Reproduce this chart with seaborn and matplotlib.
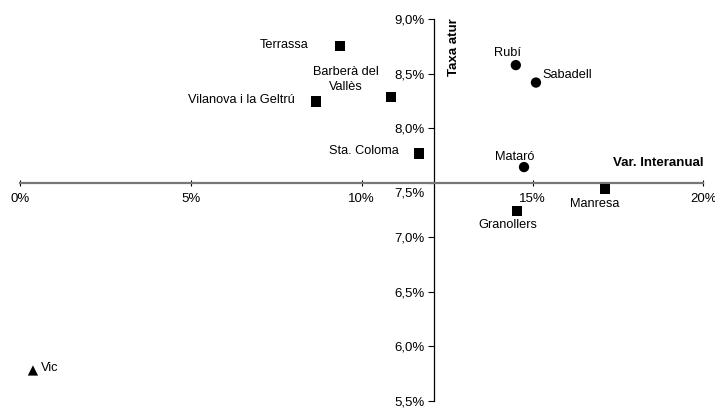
import matplotlib
matplotlib.use("Agg")
import matplotlib.pyplot as plt
import matplotlib.transforms as mtransforms
import pandas as pd
import seaborn as sns

# data
cities = ["Terrassa", "Barberà del\nVallès", "Vilanova i la Geltrú", "Sta. Coloma",
          "Rubí", "Sabadell", "Mataró", "Manresa", "Granollers", "Vic"]
var_interanual = [9.36, 10.85, 8.66, 11.67, 14.51, 15.10, 14.75, 17.12, 14.54, 0.37]
taxa_atur = [8.755, 8.29, 8.245, 7.77, 8.58, 8.42, 7.645, 7.445, 7.24, 5.78]
group = ["sq", "sq", "sq", "sq", "ci", "ci", "ci", "sq", "sq", "tr"]

x_ticks = [0, 5, 10, 15, 20]
x_labels = ["0%", "5%", "10%", "15%", "20%"]
y_ticks = [5.5, 6.0, 6.5, 7.0, 7.5, 8.0, 8.5, 9.0]
y_labels = ["5,5%", "6,0%", "6,5%", "7,0%", "7,5%", "8,0%", "8,5%", "9,0%"]

# label offsets in pixels (dx, dy) and alignment
label_pos = {
    "Terrassa": (-31, 1, "right"),
    "Barberà del\nVallès": (-45, 17, "center"),
    "Vilanova i la Geltrú": (-21, 2, "right"),
    "Sta. Coloma": (-20, 2, "right"),
    "Rubí": (-8, 12, "center"),
    "Sabadell": (6, 8, "left"),
    "Mataró": (-9, 10, "center"),
    "Manresa": (-10, -15, "center"),
    "Granollers": (-9, -14, "center"),
    "Vic": (8, 2, "left"),
}

df = pd.DataFrame({"city": cities, "x": var_interanual, "y": taxa_atur, "g": group})

plt.rcParams["font.family"] = ["Liberation Sans", "DejaVu Sans"]
plt.rcParams["font.size"] = 9

fig = plt.figure(figsize=(7.15, 4.08), dpi=100)
ax = fig.add_axes([20.3 / 715, 7 / 408, 683 / 715, 381.7 / 408])

sns.scatterplot(data=df, x="x", y="y", style="g",
                markers={"sq": "s", "ci": "o", "tr": "^"},
                color="black", s=55, edgecolor="none", legend=False,
                ax=ax, clip_on=False, zorder=3)

for c, xv, yv in zip(cities, var_interanual, taxa_atur):
    dx, dy, ha = label_pos[c]
    ax.annotate(c, (xv, yv), xytext=(dx, dy), textcoords="offset pixels",
                ha=ha, va="center", fontsize=9.2, linespacing=1.35)

ax.set_xlim(0, 20)
ax.set_ylim(5.5, 9.0)
ax.set_xticks(x_ticks)
ax.set_xticklabels(x_labels)
ax.set_yticks(y_ticks)
ax.set_yticklabels(y_labels)
ax.set_xlabel("")
ax.set_ylabel("")

for s in ["top", "right"]:
    ax.spines[s].set_visible(False)
ax.spines["left"].set_position(("data", 12.1))
ax.spines["bottom"].set_position(("data", 7.5))
ax.spines["left"].set_color("black")
ax.spines["left"].set_linewidth(0.9)
ax.spines["bottom"].set_color("#777777")
ax.spines["bottom"].set_linewidth(1.6)
ax.spines["left"].set_zorder(2)

ax.tick_params(axis="x", direction="inout", length=5, width=0.8, pad=5, labelsize=9.5)
ax.tick_params(axis="y", direction="out", length=4, width=0.8, pad=2.5, labelsize=9.5)

# shift the 7,5% label below the horizontal axis
for lab in ax.get_yticklabels():
    if lab.get_text() == "7,5%":
        lab.set_transform(lab.get_transform() +
                          mtransforms.ScaledTranslation(0, -9 / 100, fig.dpi_scale_trans))

ax.annotate("Var. Interanual", (20, 7.5), xytext=(0, 20), textcoords="offset pixels",
            ha="right", va="center", fontsize=9.5, fontweight="bold")
ax.annotate("Taxa atur", (12.1, 9.0), xytext=(20, 1), textcoords="offset pixels",
            ha="center", va="top", rotation=90, fontsize=9.5, fontweight="bold")

fig.savefig("out.png", dpi=100)
